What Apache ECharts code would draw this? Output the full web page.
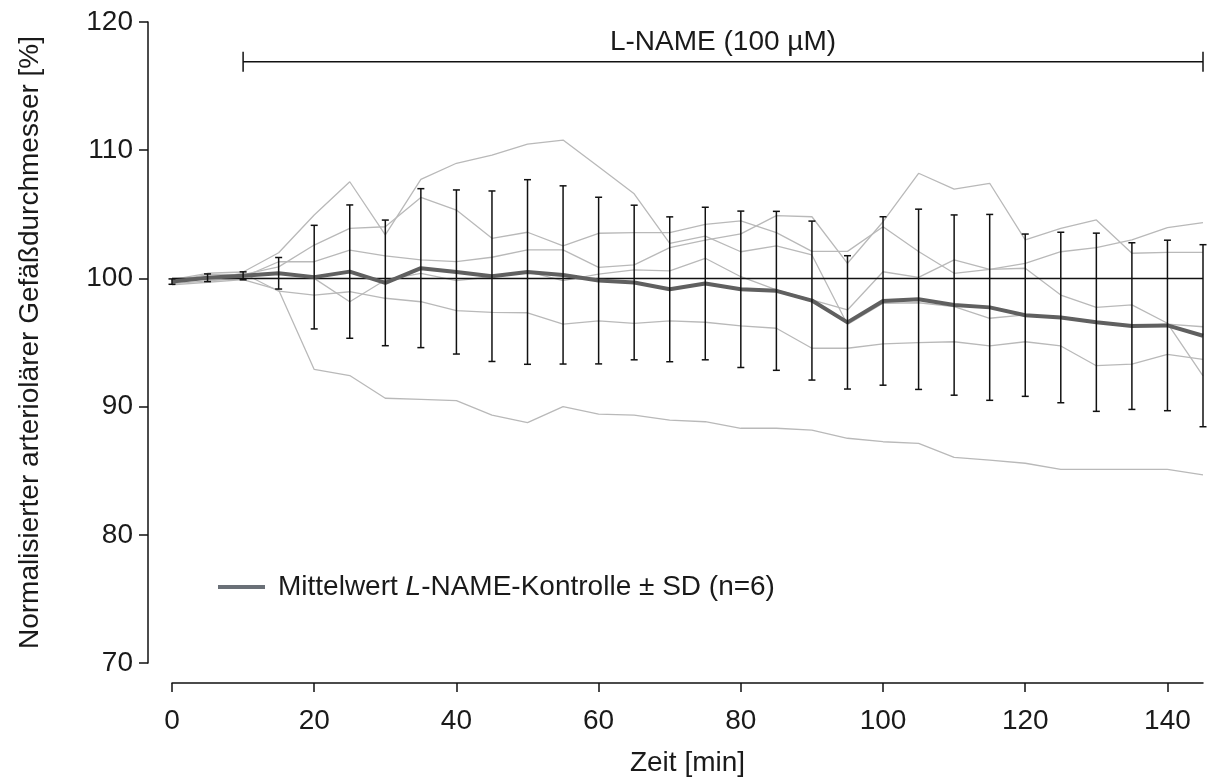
<!DOCTYPE html>
<html>
<head>
<meta charset="utf-8">
<script src="https://cdn.jsdelivr.net/npm/echarts@6/dist/echarts.min.js"></script>
<style>
html,body{margin:0;padding:0;background:#fff;}
#chart{width:1221px;height:778px;}
</style>
</head>
<body>
<div id="chart"></div>
<script>
// ---- data ----
var times = [0,5,10,15,20,25,30,35,40,45,50,55,60,65,70,75,80,85,90,95,100,105,110,115,120,125,130,135,140,145];
var meanValues = [99.75,100.05,100.2,100.4,100.1,100.53,99.65,100.8,100.5,100.17,100.5,100.27,99.83,99.68,99.15,99.6,99.15,99.03,98.27,96.57,98.24,98.37,97.92,97.74,97.13,96.95,96.58,96.28,96.33,95.53];
var sdValues = [0.21,0.3,0.31,1.23,4.04,5.2,4.9,6.2,6.4,6.65,7.2,6.95,6.5,6.03,5.65,5.95,6.1,6.2,6.2,5.2,6.57,7.03,7.03,7.25,6.33,6.65,6.95,6.5,6.65,7.1];
var vessel1 = [99.9,100.4,100.5,102.0,104.95,107.54,103.4,107.73,108.98,109.62,110.48,110.79,108.71,106.6,102.74,103.3,102.08,102.53,101.83,96.4,98.06,98.1,97.8,96.89,97.15,97.01,96.62,96.29,96.44,96.23];
var vessel2 = [99.8,100.3,100.3,100.9,102.6,103.9,104.03,106.32,105.33,103.13,103.6,102.53,103.52,103.57,103.57,104.22,104.48,103.57,102.11,102.11,104.03,102.1,100.4,100.71,101.18,102.08,102.4,103.0,103.96,104.35];
var vessel3 = [100.0,100.1,100.1,101.3,101.3,102.2,101.75,101.44,101.31,101.65,102.22,102.22,100.86,101.05,102.4,102.99,103.47,104.9,104.81,101.18,104.42,108.2,106.97,107.42,103.0,103.9,104.56,101.96,102.03,102.03];
var vessel4 = [99.6,99.8,100.0,100.0,100.0,98.18,99.88,100.4,99.82,100.13,100.52,99.82,100.34,100.66,100.58,101.57,100.13,99.1,98.33,97.54,100.52,100.08,101.44,100.71,100.79,98.7,97.74,97.93,96.5,92.39];
var vessel5 = [99.7,100.0,100.4,99.0,98.7,98.96,98.45,98.18,97.48,97.35,97.32,96.44,96.68,96.49,96.68,96.58,96.29,96.11,94.55,94.55,94.89,94.99,95.06,94.73,95.06,94.73,93.19,93.32,94.08,93.69];
var vessel6 = [99.5,99.7,99.9,99.1,92.9,92.42,90.65,90.57,90.46,89.34,88.75,90.0,89.42,89.34,88.95,88.82,88.31,88.31,88.17,87.53,87.26,87.13,86.04,85.83,85.58,85.11,85.11,85.11,85.11,84.67];
var xTicks = [0,20,40,60,80,100,120,140];
var yTicks = [70,80,90,100,110,120];
var baselineValue = 100;
var treatment = {label:'L-NAME (100 µM)', start:10, end:145, level:116.9};
var legendName = 'Mittelwert L-NAME-Kontrolle ± SD (n=6)';

// ---- chart ----
var chart = echarts.init(document.getElementById('chart'), null, {renderer:'canvas'});
var FONT = 'Liberation Sans, Arial, sans-serif';
var FS = 28;
var TXT = '#1a1a1a';
function pairs(arr){ return times.map(function(t,i){ return [t, arr[i]]; }); }

var vessels = [vessel1,vessel2,vessel3,vessel4,vessel5,vessel6];
var series = vessels.map(function(v, k){
  var s = {
    type:'line', name:'v'+k, data:pairs(v), showSymbol:false, symbol:'none',
    lineStyle:{color:'#b9b9b9', width:1.3}, z:1, silent:true, animation:false
  };
  if (k === 0) {
    s.markLine = {
      silent:true, symbol:'none', label:{show:false},
      lineStyle:{color:'#111', width:1.4, type:'solid'},
      data:[{yAxis: baselineValue}], z:2, animation:false
    };
  }
  return s;
});

series.push({
  type:'line', name:legendName, data:pairs(meanValues), showSymbol:false, symbol:'none',
  lineStyle:{color:'#606060', width:4}, itemStyle:{color:'#6a7077'}, z:3, animation:false
});

series.push({
  type:'custom', name:'sd', z:4, animation:false, silent:true,
  data: times.map(function(t,i){ return [t, meanValues[i]-sdValues[i], meanValues[i]+sdValues[i]]; }),
  encode:{x:0, y:[1,2]},
  renderItem:function(params, api){
    var lo = api.coord([api.value(0), api.value(1)]);
    var hi = api.coord([api.value(0), api.value(2)]);
    var w = 3.5;
    var st = {stroke:'#111', lineWidth:1.5};
    return {type:'group', children:[
      {type:'line', shape:{x1:lo[0], y1:lo[1], x2:hi[0], y2:hi[1]}, style:st},
      {type:'line', shape:{x1:lo[0]-w, y1:lo[1], x2:lo[0]+w, y2:lo[1]}, style:st},
      {type:'line', shape:{x1:hi[0]-w, y1:hi[1], x2:hi[0]+w, y2:hi[1]}, style:st}
    ]};
  }
});

series.push({
  type:'custom', name:'treat', z:5, animation:false, silent:true, clip:false,
  data:[[treatment.start, treatment.end, treatment.level]],
  renderItem:function(params, api){
    var a = api.coord([api.value(0), api.value(2)]);
    var b = api.coord([api.value(1), api.value(2)]);
    var st = {stroke:'#111', lineWidth:1.5};
    return {type:'group', children:[
      {type:'line', shape:{x1:a[0], y1:a[1], x2:b[0], y2:b[1]}, style:st},
      {type:'line', shape:{x1:a[0], y1:a[1]-10, x2:a[0], y2:a[1]+10}, style:st},
      {type:'line', shape:{x1:b[0], y1:b[1]-10, x2:b[0], y2:b[1]+10}, style:st},
      {type:'text', x:(a[0]+b[0])/2, y:a[1]-19, style:{text:treatment.label, fill:TXT, font:FS+'px '+FONT, align:'center', verticalAlign:'middle'}}
    ]};
  }
});

chart.setOption({
  animation:false,
  backgroundColor:'#fff',
  grid:{left:172, right:18, top:22, bottom:115, containLabel:false, outerBoundsMode:'none'},
  legend:{
    show:true, data:[{name:legendName, icon:'rect', itemStyle:{color:'#6a7077'}}],
    left:218, top:573, padding:0, itemWidth:47, itemHeight:4, selectedMode:false,
    formatter:function(){ return '{a|Mittelwert }{i|L}{n|-NAME-Kontrolle ± SD (n=6)}'; },
    textStyle:{fontFamily:FONT, fontSize:FS, color:TXT,
      rich:{
        a:{fontFamily:FONT, fontSize:FS, color:TXT, padding:[0,0,0,8]},
        n:{fontFamily:FONT, fontSize:FS, color:TXT},
        i:{fontFamily:FONT, fontSize:FS, fontStyle:'italic', color:TXT}}}
  },
  xAxis:{
    type:'value', min:0, max:145, offset:20,
    name:'Zeit [min]', nameLocation:'middle', nameGap:66,
    nameTextStyle:{fontFamily:FONT, fontSize:FS, color:TXT},
    axisLine:{show:true, onZero:false, lineStyle:{color:'#111', width:1.5}},
    axisTick:{show:true, length:9, lineStyle:{color:'#111', width:1.5}, customValues:xTicks},
    axisLabel:{fontFamily:FONT, fontSize:FS, color:TXT, margin:24, customValues:xTicks},
    splitLine:{show:false}
  },
  yAxis:{
    type:'value', min:70, max:120, interval:10, offset:24,
    name:'Normalisierter arteriolärer Gefäßdurchmesser [%]', nameLocation:'middle', nameGap:104, nameRotate:90,
    nameTextStyle:{fontFamily:FONT, fontSize:FS, color:TXT},
    axisLine:{show:true, onZero:false, lineStyle:{color:'#111', width:1.5}},
    axisTick:{show:true, length:9, lineStyle:{color:'#111', width:1.5}, customValues:yTicks},
    axisLabel:{fontFamily:FONT, fontSize:FS, color:TXT, margin:15, customValues:yTicks},
    splitLine:{show:false}
  },
  series:series
});
</script>
</body>
</html>
